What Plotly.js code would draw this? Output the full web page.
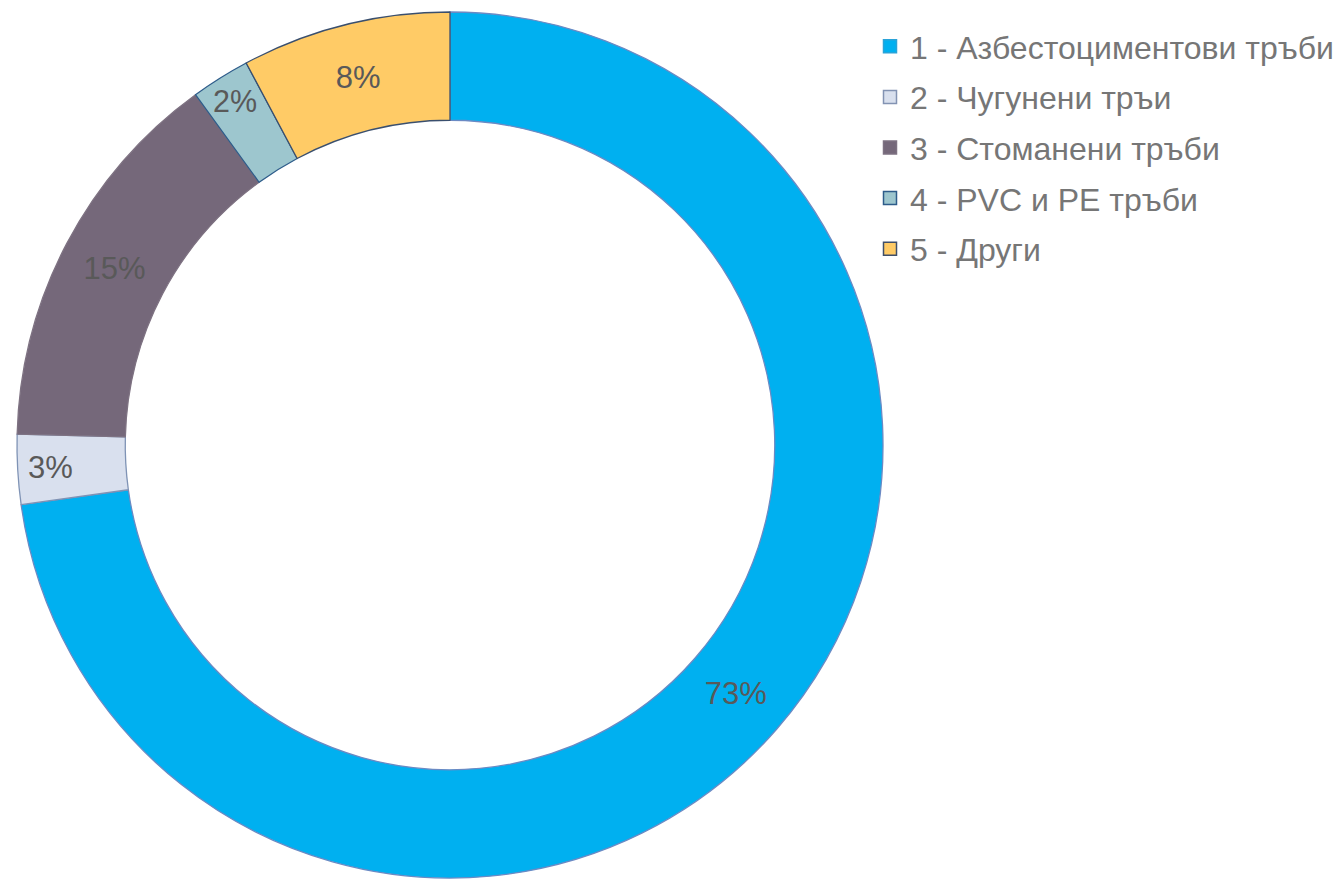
<!DOCTYPE html>
<html>
<head>
<meta charset="utf-8">
<script src="https://cdn.plot.ly/plotly-3.0.1.min.js"></script>
<style>html,body{margin:0;padding:0;background:#fff;}#chart{width:1342px;height:880px;}</style>
</head>
<body>
<div id="chart"></div>
<script>
const categories = [
  '1 - Азбестоциментови тръби',
  '2 - Чугунени тръи',
  '3 - Стоманени тръби',
  '4 - PVC и PE тръби',
  '5 - Други'
];
const shares = [72.8, 2.6, 14.6, 2.2, 7.8];
const sliceColors = ['#00B0F0', '#D9E0EE', '#75687A', '#9DC6CE', '#FFCB66'];
const sliceBorders = ['#6A8AC4', '#7F93B5', '#7E7282', '#2E5C8A', '#3A4F6E'];
const legendBorders = ['#2AA3D8', '#8393B3', '#7E7282', '#2E5C8A', '#3F4F6A'];

const W = 1342, H = 880;
const FONT = 'Liberation Sans, Arial, sans-serif';

const pie = {
  type: 'pie',
  labels: categories,
  values: shares,
  sort: false,
  direction: 'clockwise',
  rotation: 0,
  hole: 0.75,
  showlegend: false,
  marker: { colors: sliceColors, line: { color: sliceBorders, width: 1.3 } },
  textinfo: 'percent',
  texttemplate: '%{percent:.0%}',
  textposition: 'inside',
  insidetextorientation: 'horizontal',
  textfont: { family: FONT, size: 31, color: '#595959' },
  domain: { x: [16 / W, 884 / W], y: [1 - 878 / H, 1 - 12 / H] },
  hoverinfo: 'label+percent'
};

// legend entries (one per category, each its own group so spacing can be set)
const legendTraces = categories.map((name, i) => ({
  type: 'scatter',
  mode: 'markers',
  x: [null], y: [null],
  name: name,
  legendgroup: 'g' + i,
  showlegend: true,
  marker: { symbol: 'square', size: 13, color: sliceColors[i], line: { color: legendBorders[i], width: 1.5 } },
  hoverinfo: 'skip'
}));

const layout = {
  width: W, height: H,
  margin: { l: 0, r: 0, t: 0, b: 0 },
  paper_bgcolor: '#ffffff',
  plot_bgcolor: 'rgba(0,0,0,0)',
  xaxis: { visible: false, domain: [0.99, 1] },
  yaxis: { visible: false, domain: [0.99, 1] },
  showlegend: true,
  legend: {
    x: 870 / W, y: 1 - 19 / H, xanchor: 'left', yanchor: 'top',
    tracegroupgap: 6,
    itemsizing: 'trace',
    font: { family: FONT, size: 32, color: '#767676' },
    bgcolor: 'rgba(0,0,0,0)'
  }
};

Plotly.newPlot('chart', [pie].concat(legendTraces), layout, { displayModeBar: false, staticPlot: true });
</script>
</body>
</html>
